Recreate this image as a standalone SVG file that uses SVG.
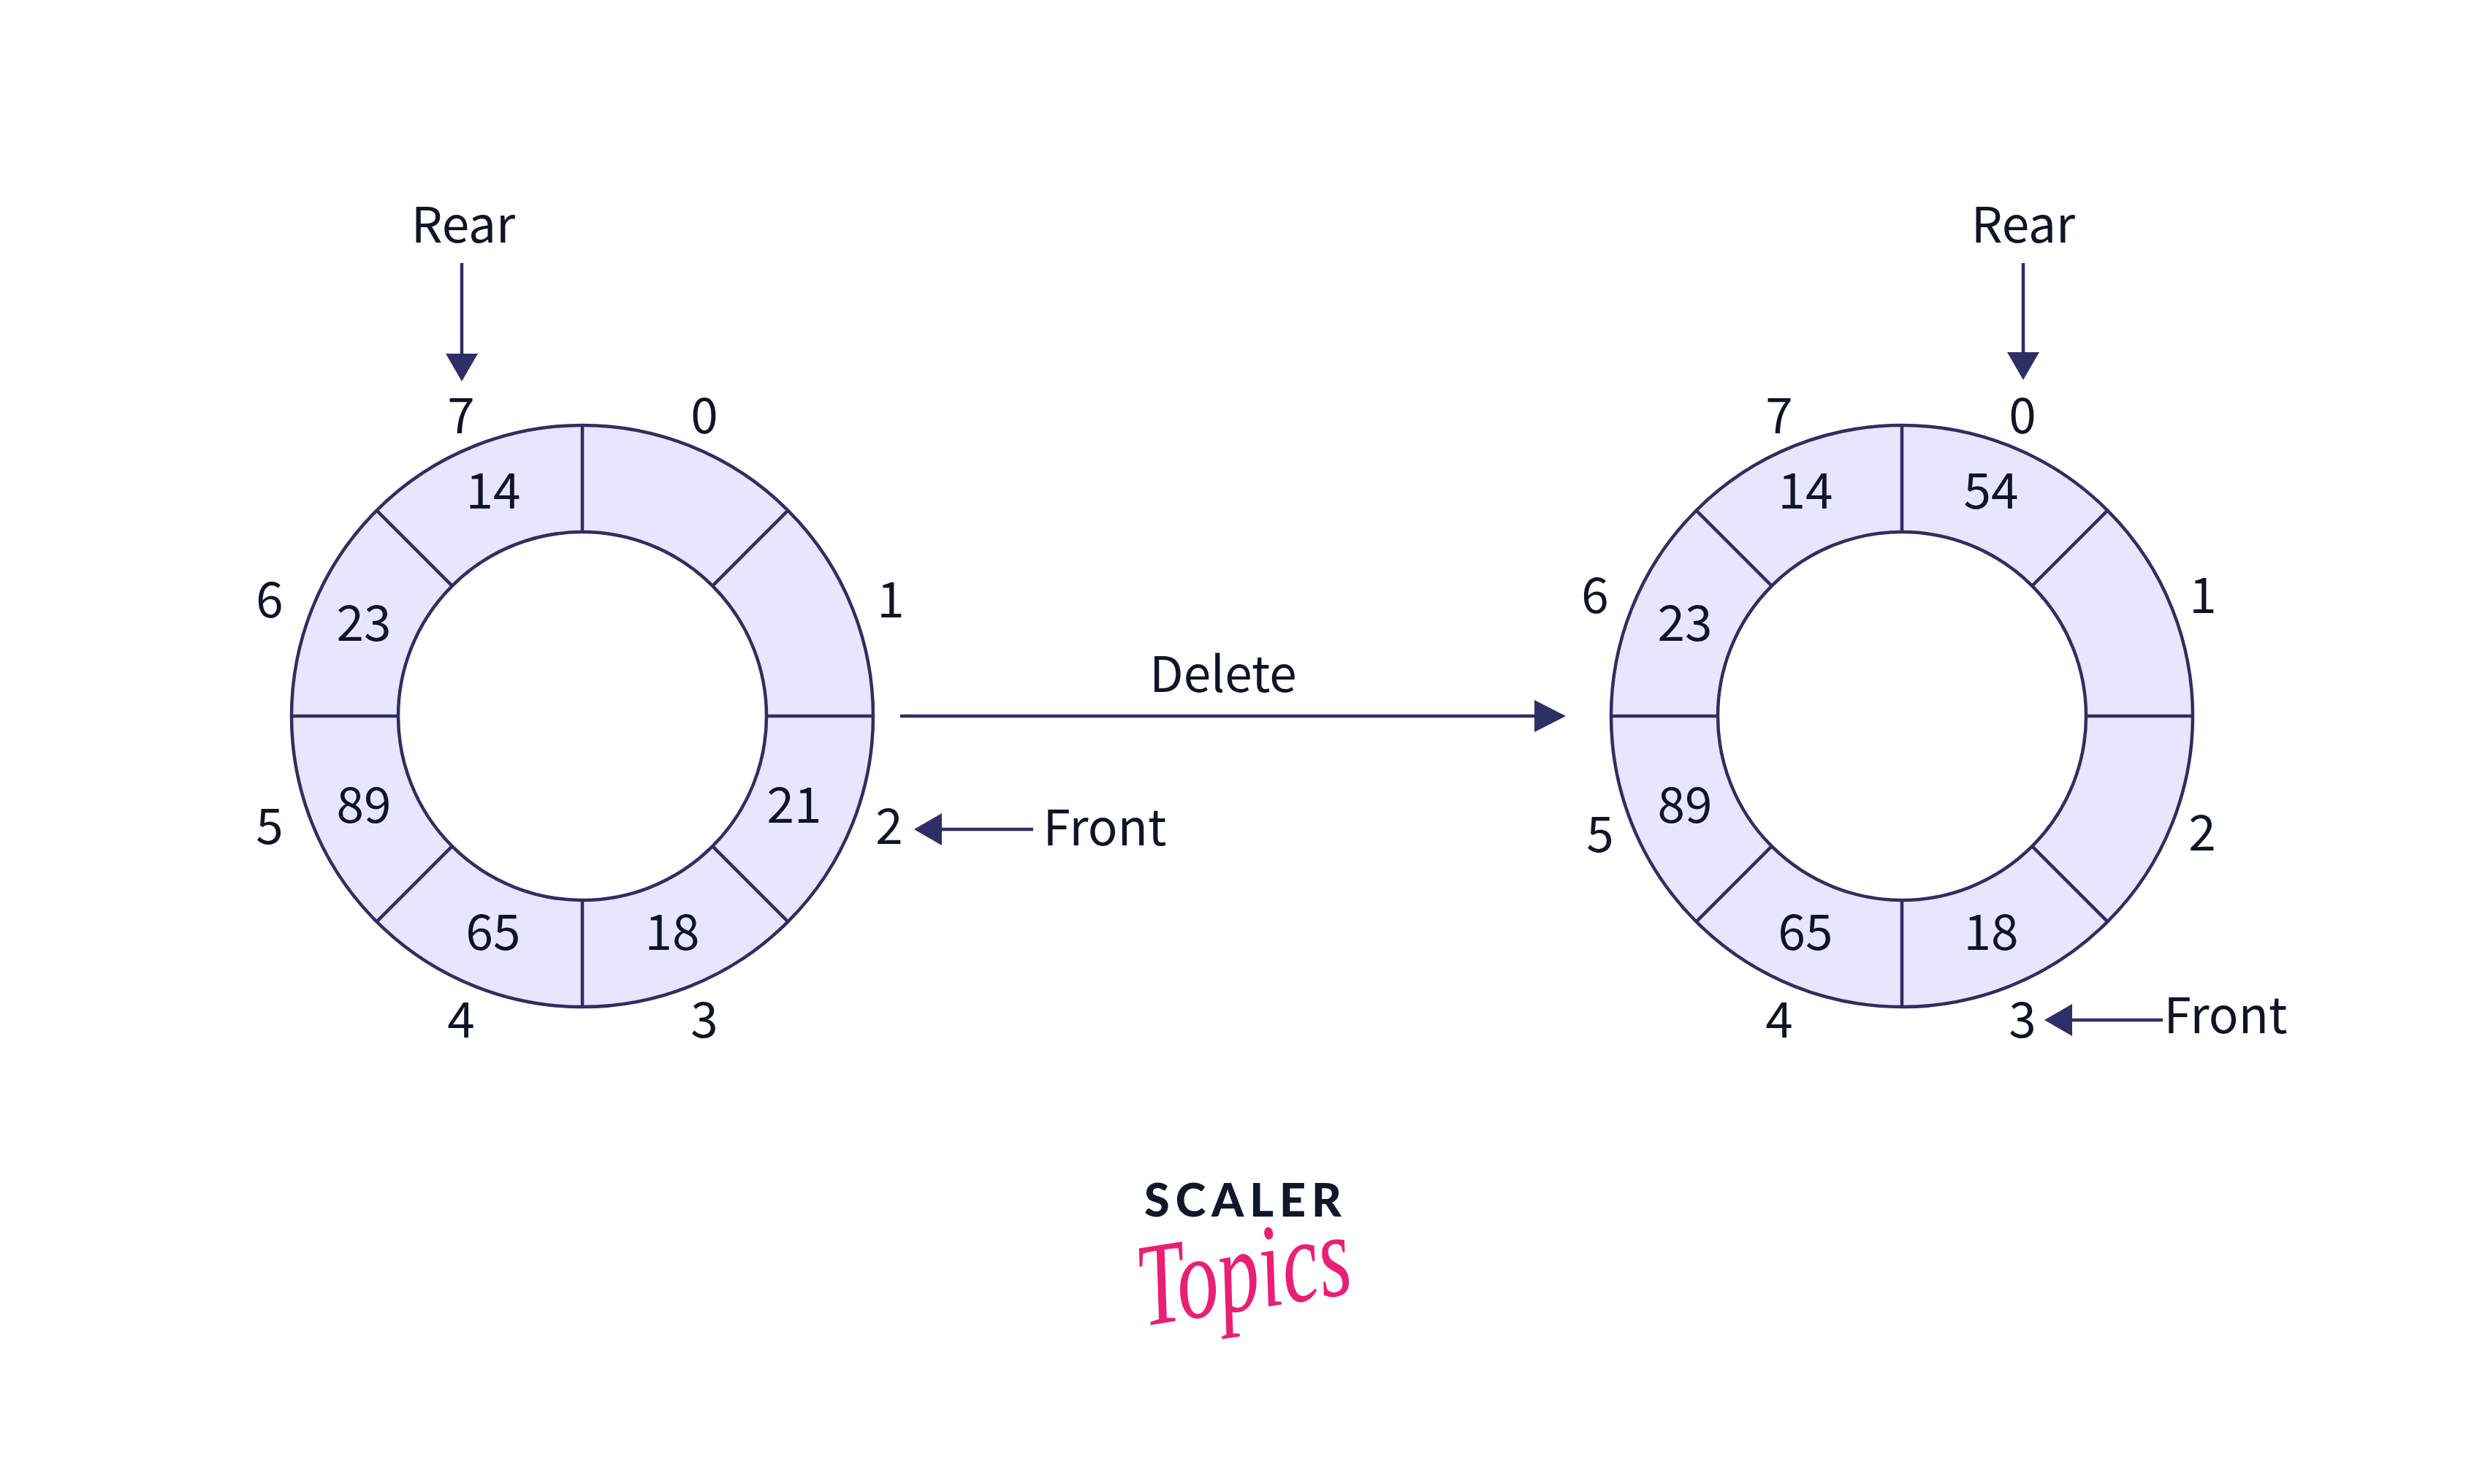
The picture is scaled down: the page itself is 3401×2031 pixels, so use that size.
<svg xmlns="http://www.w3.org/2000/svg" width="3401" height="2031" viewBox="0 0 3401 2031">
<style>
.t{font-family:"Noto Sans CJK SC","Source Sans Pro","Noto Sans",sans-serif;font-size:67.5px;fill:#0d1528;text-anchor:middle}
.s{stroke:#2f2e63;stroke-width:4.5;fill:none}
.c{stroke:#2f2e63;stroke-width:4.5;fill:none}
.o{fill:#e7e6fe;stroke:#2f2e63;stroke-width:4.5}
.i{fill:#fff;stroke:#2f2e63;stroke-width:4.5}
</style>
<defs>
<marker id="ah" markerUnits="userSpaceOnUse" markerWidth="44" markerHeight="46" refX="0" refY="23" orient="auto"><path d="M0 1L38 23L0 45Z" fill="#2d3067"/></marker>
<marker id="ahl" markerUnits="userSpaceOnUse" markerWidth="46" markerHeight="46" refX="0" refY="23" orient="auto"><path d="M0 1L43 23L0 45Z" fill="#2d3067"/></marker>
<g id="ring">
<circle class="o" r="398"/><circle class="i" r="252"/>
<path class="s" d="M0-398V-252M0 252V398M-398 0H-252M252 0H398M281.4-281.4L178.2-178.2M-281.4-281.4L-178.2-178.2M281.4 281.4L178.2 178.2M-281.4 281.4L-178.2 178.2"/>
</g>
</defs>
<rect width="3401" height="2031" fill="#fff"/>
<g id="queue-before">
<use href="#ring" x="797" y="980"/>
<text class="t" x="631" y="593">7</text><text class="t" x="964" y="593">0</text><text class="t" x="1219" y="845">1</text><text class="t" x="1217" y="1155">2</text><text class="t" x="964" y="1420">3</text><text class="t" x="631" y="1420">4</text><text class="t" x="369" y="1155">5</text><text class="t" x="369" y="845">6</text>
<text class="t" x="675" y="696">14</text><text class="t" x="498" y="877">23</text><text class="t" x="498" y="1126">89</text><text class="t" x="675" y="1300">65</text><text class="t" x="920" y="1300">18</text><text class="t" x="1087" y="1126">21</text>
</g>
<g id="queue-after">
<use href="#ring" x="2603" y="980"/>
<text class="t" x="2435" y="593">7</text><text class="t" x="2768" y="593">0</text><text class="t" x="3015" y="839">1</text><text class="t" x="3014" y="1164">2</text><text class="t" x="2768" y="1420">3</text><text class="t" x="2435" y="1420">4</text><text class="t" x="2190" y="1166">5</text><text class="t" x="2183" y="839">6</text>
<text class="t" x="2471" y="696">14</text><text class="t" x="2725" y="696">54</text><text class="t" x="2306" y="877">23</text><text class="t" x="2306" y="1126">89</text><text class="t" x="2471" y="1300">65</text><text class="t" x="2725" y="1300">18</text>
</g>
<g id="label-rear-1"><text class="t" x="634" y="332">Rear</text></g>
<g id="label-rear-2"><text class="t" x="2769" y="332">Rear</text></g>
<g id="label-delete"><text class="t" x="1674" y="947">Delete</text></g>
<g id="label-front-1"><text class="t" x="1512" y="1157">Front</text></g>
<g id="label-front-2"><text class="t" x="3046" y="1414">Front</text></g>
<g id="connectors">
<path class="c" d="M632 360V484" marker-end="url(#ah)"/>
<path class="c" d="M2769 360V482" marker-end="url(#ah)"/>
<path class="c" d="M1232 980H2100" marker-end="url(#ahl)"/>
<path class="c" d="M1414 1135H1289" marker-end="url(#ah)"/>
<path class="c" d="M2960 1396H2836" marker-end="url(#ah)"/>
</g>
<g id="logo">
<text x="1566" y="1665" textLength="270" lengthAdjust="spacing" style="font-family:Lato,'Liberation Sans',sans-serif;font-weight:900;font-size:63px;fill:#0f172a">SCALER</text>
<text transform="translate(1565 1815) rotate(-9) scale(.76 1.08)" style="font-family:'Liberation Serif',serif;font-style:italic;font-size:150px;fill:#e91e74">Topics</text>
</g>
</svg>
